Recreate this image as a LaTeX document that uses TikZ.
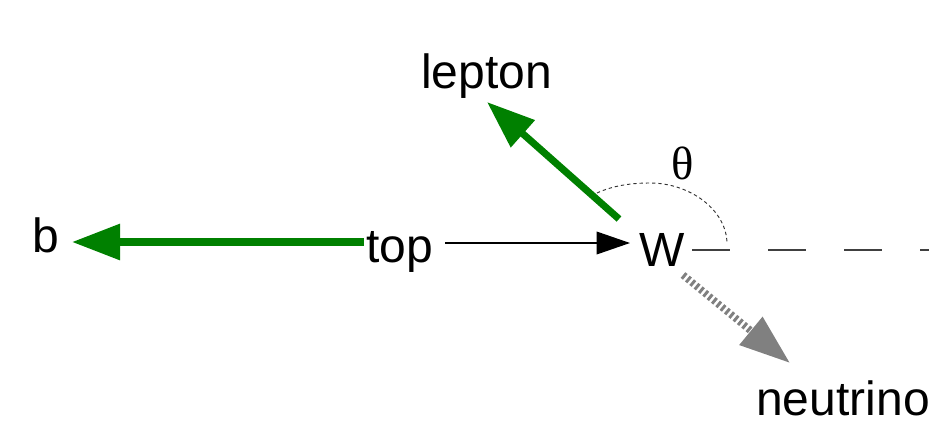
\documentclass[tikz,border=0pt]{standalone}
\usepackage{fontspec}
\setmainfont{Liberation Sans}
\newfontfamily\thetafont{Liberation Serif}
\usetikzlibrary{arrows.meta}
\definecolor{leafgreen}{RGB}{0,128,0}
\definecolor{midgray}{RGB}{128,128,128}
\tikzset{
  lbl/.style={anchor=base west, inner sep=0pt, font=\fontsize{36pt}{38pt}\selectfont},
  greenarrow/.style={draw=leafgreen, line width=5.3pt,
    -{Triangle[length=36pt, width=26pt, fill=leafgreen]}},
  thinarrow/.style={draw=black, line width=1pt,
    -{Triangle[length=25pt, width=17pt]}},
  nuarrow/.style={draw=midgray, line width=5.5pt, dash pattern=on 2.2pt off 2pt,
    -{Triangle[length=38pt, width=26pt, fill=midgray]}},
  axisline/.style={draw=black!75, line width=1pt, dash pattern=on 28.5pt off 28.5pt},
  anglearc/.style={draw=black!80, line width=0.7pt, dash pattern=on 2.5pt off 2.2pt}
}
\begin{document}
\begin{tikzpicture}[x=0.75pt, y=-0.75pt]
  \useasboundingbox (0,0) rectangle (929,422);

  % labels
  \node[lbl] (b) at (32,252) {b};
  \node[lbl] (top) at (366,262) {top};
  \node[lbl] (W) at (639,266) {W};
  \node[lbl] (lepton) at (421,88) {lepton};
  \node[lbl] (nu) at (756,415) {neutrino};
  \node[anchor=base, inner sep=0pt, font=\thetafont\fontsize{35pt}{37pt}\selectfont]
    (theta) at (683,179) {θ};

  % end points of the decay products
  \coordinate (topL) at (364,242);
  \coordinate (bTip) at (72,242);
  \coordinate (topR) at (445,243);
  \coordinate (wTip) at (630,243);
  \coordinate (lepStart) at (619,219);
  \coordinate (lepTip) at (487,102);
  \coordinate (nuStart) at (683,275);
  \coordinate (nuTip) at (790,363);
  \coordinate (axisStart) at (692,250);
  \coordinate (axisEnd) at (929,250);
  \coordinate (arcStart) at (597,193);
  \coordinate (arcTop) at (650,183);
  \coordinate (arcEnd) at (727,244);

  % W direction axis and the angle theta
  \draw[axisline] (axisStart) -- (axisEnd);
  \draw[anglearc] (arcStart) .. controls (612,186) and (630,183) .. (arcTop)
                             .. controls (690,183) and (727,210) .. (arcEnd);

  % top -> b + W
  \draw[greenarrow] (topL) -- (bTip);
  \draw[thinarrow] (topR) -- (wTip);

  % W -> lepton + neutrino
  \draw[greenarrow] (lepStart) -- (lepTip);
  \draw[nuarrow] (nuStart) -- (nuTip);
\end{tikzpicture}
\end{document}
